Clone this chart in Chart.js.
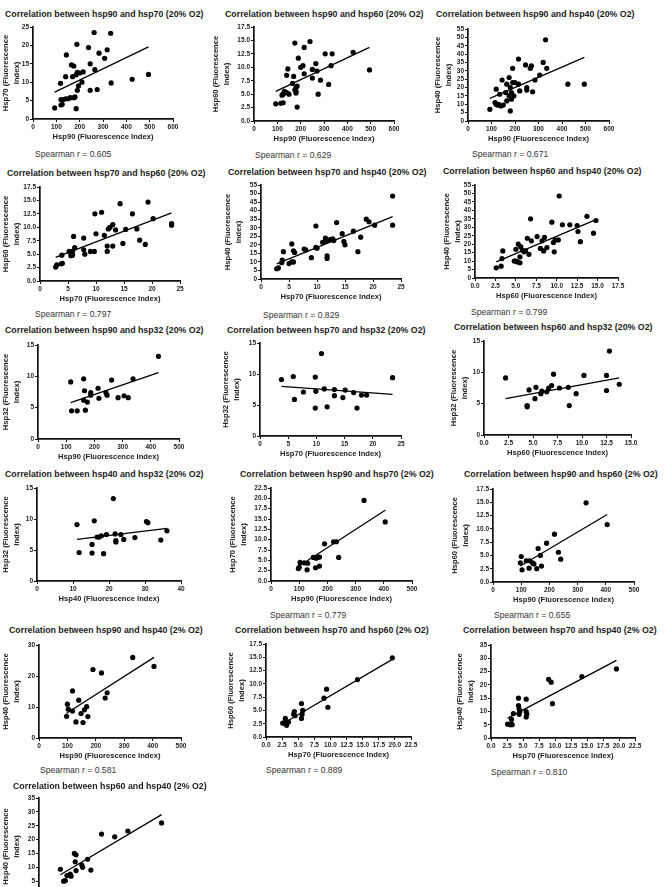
<!DOCTYPE html>
<html>
<head>
<meta charset="utf-8">
<script src="https://cdn.jsdelivr.net/npm/chart.js@4.4.1/dist/chart.umd.min.js"></script>
<style>
  html, body { margin: 0; padding: 0; background: #fff; width: 664px; height: 887px; overflow: hidden; position: relative; }
  canvas { position: absolute; }
  .ttl { position: absolute; font: bold 8.8px "Liberation Sans", Arial, sans-serif; color: #1c1c1c; white-space: nowrap; line-height: 10px; }
  .spr { position: absolute; font: 8.6px "Liberation Sans", Arial, sans-serif; color: #333; white-space: nowrap; line-height: 10px; }
</style>
</head>
<body>
<script>
// valores (x = primeira proteína, y = segunda)
const hsp90_hsp70_20_x = [93,120,125,130,120,140,150,160,175,180,118,140,143,165,175,170,185,190,200,215,210,185,190,195,188,238,262,333,318,283,307,245,265,245,275,335,425,495];
const hsp90_hsp70_20_y = [3.0,3.8,4.0,5.3,5.3,5.5,5.5,5.8,5.8,6.0,9.7,11.5,17.4,14.7,14.4,11.5,12.0,12.7,12.5,12.8,10.0,2.8,7.8,9.0,20.3,19.4,23.5,23.3,18.8,17.9,16.5,15.0,13.4,7.8,8.0,9.8,10.8,12.1];
const hsp90_hsp70_20_fit = [[93,495],[7.3,19.6]];

const hsp90_hsp60_20_x = [93,115,125,120,125,130,140,150,140,145,165,170,175,180,180,185,180,185,175,190,200,210,215,215,240,250,250,265,270,275,285,305,320,335,330,425,495];
const hsp90_hsp60_20_y = [3.2,3.3,3.4,4.8,5.0,5.5,5.3,5.0,8.5,9.7,7.0,8.3,5.8,5.5,6.2,6.5,5.2,2.6,14.5,11.7,10.0,10.3,13.7,8.8,14.8,9.6,8.0,10.7,9.3,5.0,7.6,12.5,6.8,12.5,10.3,12.8,9.5];
const hsp90_hsp60_20_fit = [[93,495],[5.5,13.7]];

const hsp90_hsp40_20_x = [93,115,120,120,125,130,135,140,145,150,160,165,165,175,175,180,180,185,185,190,190,195,200,215,215,220,245,250,250,265,270,275,285,305,320,330,335,425,495];
const hsp90_hsp40_20_y = [7,11,19,10,9.5,10,16,9,24.5,9.5,17,12,22,26,15,20,6,17,13,23,31.5,15,23,37,22,18,33.5,20,18.5,31.5,33,17.5,24.5,27.5,35,48.5,31.5,22,22];
const hsp90_hsp40_20_fit = [[93,495],[13.5,38]];

const hsp70_hsp60_20_x = [2.8,3.0,3.8,3.9,4.0,5.2,5.5,5.7,5.8,5.8,6.0,6.2,7.8,7.8,8.0,9.0,9.7,9.8,10.0,11.0,11.5,12.0,12.0,12.2,12.5,13.0,13.0,13.5,14.3,14.8,15.3,16.5,17.3,17.8,18.8,19.3,20.2,23.5,23.5];
const hsp70_hsp60_20_y = [2.6,3.0,3.2,4.8,3.3,5.5,4.7,5.0,4.8,5.5,8.3,6.2,8.0,5.8,5.0,5.5,5.5,12.5,8.8,12.8,8.5,5.5,6.5,9.7,10.0,10.5,6.5,9.5,14.4,7.0,9.6,12.5,9.7,7.6,6.8,14.7,11.6,10.4,10.7];
const hsp70_hsp60_20_fit = [[2.8,23.5],[4.4,12.7]];

const hsp70_hsp40_20_x = [2.8,3.1,3.7,3.8,4.0,5.0,5.5,5.5,5.8,5.8,6.0,7.7,8.0,9.0,9.8,9.8,10.0,11.0,11.5,11.5,11.8,11.8,12.3,12.8,13.0,13.5,14.5,14.8,15.0,16.5,17.3,17.8,18.8,19.3,20.3,23.5,23.5];
const hsp70_hsp40_20_y = [6,6.5,9.5,11,16,9,10,20.5,10,16.5,15.5,17.5,17,12.5,31,18.5,18,21.5,24,22,12,13.5,23,23.5,22.5,33,26.5,22,20,28,16,24.5,35,33.5,31.5,48.5,31.5];
const hsp70_hsp40_20_fit = [[2.8,23.5],[8.8,36.5]];

const hsp60_hsp40_20_x = [2.6,3.2,3.3,3.4,4.8,5.0,5.0,5.2,5.3,5.5,5.5,5.6,5.8,6.0,6.2,6.4,6.6,6.8,6.9,7.6,8.0,8.2,8.4,8.5,8.8,9.4,9.6,9.7,9.8,10.2,10.3,10.7,11.6,12.5,12.6,12.9,13.7,14.5,14.8];
const hsp60_hsp40_20_y = [6,7,11.5,16,10,10,17,9.5,20,12.5,9,18.5,16.5,15.5,16,23.5,14,35,22,24.5,17.5,22,16,24,18,33,21,15.5,22.5,22.5,48.5,31.5,31.5,31,27.5,21.5,36.5,26.5,34];
const hsp60_hsp40_20_fit = [[2.6,14.8],[9.5,34.5]];

const hsp90_hsp32_20_x = [116,119,139,162,165,162,168,175,187,187,213,216,241,245,261,284,305,320,337,427];
const hsp90_hsp32_20_y = [9.1,4.5,4.5,9.6,7.7,6.2,4.6,5.9,7.4,7.0,8.1,6.5,7.4,7.0,9.4,6.6,6.9,6.6,9.6,13.2];
const hsp90_hsp32_20_fit = [[116,427],[5.8,10.6]];

const hsp70_hsp32_20_x = [3.8,5.9,6.1,7.7,9.8,9.8,9.9,10.9,11.4,11.9,13.2,13.2,14.7,15.1,16.6,17.2,18.0,18.9,23.5];
const hsp70_hsp32_20_y = [9.1,9.6,5.9,7.1,9.5,4.5,7.2,13.3,7.6,4.7,7.5,6.5,6.2,7.4,7.0,4.5,6.6,6.6,9.4];
const hsp70_hsp32_20_fit = [[3.8,23.5],[8.0,6.7]];

const hsp60_hsp32_20_x = [2.2,4.4,4.4,4.6,5.2,5.3,5.8,5.9,6.4,6.6,6.9,7.1,7.7,8.6,8.7,9.4,10.2,12.5,12.5,12.8,13.8];
const hsp60_hsp32_20_y = [9.1,4.7,4.5,7.2,5.8,7.6,6.6,7.0,6.9,7.5,7.9,9.7,7.5,7.6,4.7,6.6,9.5,9.5,7.1,13.4,8.1];
const hsp60_hsp32_20_fit = [[2.2,13.8],[5.8,9.1]];

const hsp40_hsp32_20_x = [11.1,11.7,15.3,15.3,15.9,16.7,17.3,17.9,18.5,19.3,21.2,21.7,21.9,21.9,23.3,24.1,27.2,30.4,30.8,34.4,36.1];
const hsp40_hsp32_20_y = [9.1,4.6,5.9,4.5,9.7,7.1,7.1,7.3,4.4,7.5,13.3,7.6,6.3,6.5,7.5,6.7,7.0,9.6,9.4,6.6,8.1];
const hsp40_hsp32_20_fit = [[11.1,36.1],[6.7,8.5]];

const hsp90_hsp70_2_x = [97,100,103,118,128,130,150,158,160,168,172,172,190,222,232,240,330,405];
const hsp90_hsp70_2_y = [3.0,3.3,4.5,4.4,2.7,4.3,5.7,3.2,5.5,5.8,3.6,5.8,9.0,9.5,9.5,5.7,19.5,14.3];
const hsp90_hsp70_2_fit = [[97,405],[3.5,17.1]];

const hsp90_hsp60_2_x = [97,100,103,118,128,130,140,145,155,160,168,172,190,218,232,240,330,405];
const hsp90_hsp60_2_y = [3.6,4.8,2.3,4.0,2.6,4.0,3.6,3.4,2.5,6.3,5.0,3.0,7.3,9.0,5.6,4.3,14.9,10.8];
const hsp90_hsp60_2_fit = [[97,405],[3.0,12.7]];

const hsp90_hsp40_2_x = [97,100,103,118,118,130,140,148,155,160,168,172,190,220,233,240,330,405];
const hsp90_hsp40_2_y = [7.0,10.9,9.3,15.2,8.7,5.2,12.2,7.9,5.0,9.1,10.1,6.9,22.1,21.0,12.9,14.6,26.0,23.1];
const hsp90_hsp40_2_fit = [[97,405],[8.0,26.0]];

const hsp70_hsp60_2_x = [2.6,2.9,3.0,3.2,3.5,4.3,4.4,4.5,5.5,5.5,5.6,5.7,9.0,9.4,9.6,14.2,19.6];
const hsp70_hsp60_2_y = [2.6,2.6,3.5,2.2,2.8,4.3,4.8,4.0,6.3,3.5,4.3,5.0,7.3,9.0,5.6,10.8,14.9];
const hsp70_hsp60_2_fit = [[2.6,19.6],[2.5,14.6]];

const hsp70_hsp40_2_x = [2.6,3.0,3.2,3.3,3.5,4.3,4.3,4.4,4.5,4.4,5.5,5.5,5.5,5.6,9.0,9.4,9.6,14.2,19.6];
const hsp70_hsp40_2_y = [5.2,5.0,7.0,5.0,9.2,15.0,12.2,11.0,10.1,8.9,14.6,9.9,7.9,9.0,22.1,21.0,12.9,23.1,26.0];
const hsp70_hsp40_2_fit = [[2.6,19.6],[7.5,29.2]];

const hsp60_hsp40_2_x = [2.6,3.0,3.2,3.4,3.8,3.9,4.3,4.5,4.4,4.5,5.2,5.3,5.9,6.3,7.6,9.2,10.8,14.9];
const hsp60_hsp40_2_y = [9.3,5.0,5.2,7.0,7.5,6.8,15.0,14.5,12.0,8.8,10.8,10.0,12.9,9.0,22.0,21.0,23.1,26.0];
const hsp60_hsp40_2_fit = [[2.6,14.9],[7.3,29.0]];

// titulos, eixos e valores de Spearman
const titles = [
  "Correlation between hsp90 and hsp70 (20% O2)", "Correlation between hsp90 and hsp60 (20% O2)", "Correlation between hsp90 and hsp40 (20% O2)",
  "Correlation between hsp70 and hsp60 (20% O2)", "Correlation between hsp70 and hsp40 (20% O2)", "Correlation between hsp60 and hsp40 (20% O2)",
  "Correlation between hsp90 and hsp32 (20% O2)", "Correlation between hsp70 and hsp32 (20% O2)", "Correlation between hsp60 and hsp32 (20% O2)",
  "Correlation between hsp40 and hsp32 (20% O2)", "Correlation between hsp90 and hsp70 (2% O2)", "Correlation between hsp90 and hsp60 (2% O2)",
  "Correlation between hsp90 and hsp40 (2% O2)", "Correlation between hsp70 and hsp60 (2% O2)", "Correlation between hsp70 and hsp40 (2% O2)",
  "Correlation between hsp60 and hsp40 (2% O2)"
];
const xNames = ["Hsp90","Hsp90","Hsp90","Hsp70","Hsp70","Hsp60","Hsp90","Hsp70","Hsp60","Hsp40","Hsp90","Hsp90","Hsp90","Hsp70","Hsp70","Hsp60"];
const yNames = ["Hsp70","Hsp60","Hsp40","Hsp60","Hsp40","Hsp40","Hsp32","Hsp32","Hsp32","Hsp32","Hsp70","Hsp60","Hsp40","Hsp60","Hsp40","Hsp40"];
const spearman = ["0.605","0.629","0.671","0.797","0.829","0.799",null,null,null,null,"0.779","0.655","0.581","0.889","0.810",null];
// [max, passo] de cada eixo
const xRanges = [[600,100],[600,100],[600,100],[25,5],[25,5],[17.5,2.5],[500,100],[25,5],[15,2.5],[40,10],[500,100],[500,100],[500,100],[22.5,2.5],[22.5,2.5],[17.5,2.5]];
const yRanges = [[25,5],[17.5,2.5],[55,5],[17.5,2.5],[55,5],[55,5],[15,5],[15,5],[15,5],[15,5],[22.5,2.5],[17.5,2.5],[30,10],[17.5,2.5],[35,5],[35,5]];

const series = [
  [hsp90_hsp70_20_x, hsp90_hsp70_20_y, hsp90_hsp70_20_fit], [hsp90_hsp60_20_x, hsp90_hsp60_20_y, hsp90_hsp60_20_fit],
  [hsp90_hsp40_20_x, hsp90_hsp40_20_y, hsp90_hsp40_20_fit], [hsp70_hsp60_20_x, hsp70_hsp60_20_y, hsp70_hsp60_20_fit],
  [hsp70_hsp40_20_x, hsp70_hsp40_20_y, hsp70_hsp40_20_fit], [hsp60_hsp40_20_x, hsp60_hsp40_20_y, hsp60_hsp40_20_fit],
  [hsp90_hsp32_20_x, hsp90_hsp32_20_y, hsp90_hsp32_20_fit], [hsp70_hsp32_20_x, hsp70_hsp32_20_y, hsp70_hsp32_20_fit],
  [hsp60_hsp32_20_x, hsp60_hsp32_20_y, hsp60_hsp32_20_fit], [hsp40_hsp32_20_x, hsp40_hsp32_20_y, hsp40_hsp32_20_fit],
  [hsp90_hsp70_2_x, hsp90_hsp70_2_y, hsp90_hsp70_2_fit], [hsp90_hsp60_2_x, hsp90_hsp60_2_y, hsp90_hsp60_2_fit],
  [hsp90_hsp40_2_x, hsp90_hsp40_2_y, hsp90_hsp40_2_fit], [hsp70_hsp60_2_x, hsp70_hsp60_2_y, hsp70_hsp60_2_fit],
  [hsp70_hsp40_2_x, hsp70_hsp40_2_y, hsp70_hsp40_2_fit], [hsp60_hsp40_2_x, hsp60_hsp40_2_y, hsp60_hsp40_2_fit]
];

// posição de cada painel: area do grafico (L,R,T,B), largura do eixo y, titulo e texto de Spearman
const boxes = [
  {L:33,R:173,T:27,B:119,W:33,tx:5,ty:14,sx:35,sy:154},
  {L:254,R:394,T:27,B:121,W:44,tx:225,ty:14,sx:255,sy:155},
  {L:468,R:609,T:29,B:121,W:36,tx:436,ty:14,sx:472,sy:154},
  {L:40,R:180,T:187,B:281,W:40,tx:7,ty:173,sx:35,sy:314},
  {L:261,R:401,T:185,B:279,W:39,tx:228,ty:172,sx:263,sy:315},
  {L:475,R:618,T:185,B:278,W:34,tx:443,ty:171,sx:471,sy:312},
  {L:38,R:179,T:345,B:439,W:38,tx:5,ty:330},
  {L:260,R:401,T:343,B:436,W:40,tx:227,ty:330},
  {L:484,R:631,T:341,B:435,W:36,tx:454,ty:327},
  {L:37,R:181,T:488,B:581,W:37,tx:5,ty:474},
  {L:271,R:412,T:488,B:581,W:44,tx:240,ty:474,sx:270,sy:615},
  {L:493,R:634,T:489,B:582,W:44,tx:464,ty:474,sx:494,sy:615},
  {L:39,R:181,T:645,B:738,W:39,tx:9,ty:630,sx:40,sy:770},
  {L:266,R:411,T:644,B:737,W:41,tx:235,ty:630,sx:266,sy:770},
  {L:491,R:635,T:645,B:738,W:37,tx:463,ty:630,sx:491,sy:772},
  {L:39,R:183,T:798,B:895,W:39,tx:13,ty:786}
];

const tickFont = { family: "Liberation Sans", size: 6.5, weight: "bold" };
const axisFont = { family: "Liberation Sans", size: 7.6, weight: "bold", lineHeight: 1.5 };
const ink = "#222";

function fmt(step) {
  return v => (step % 1 !== 0 ? Number(v).toFixed(1) : String(v));
}

function axis(range, title, extra) {
  const [max, step] = range;
  return Object.assign({
    type: "linear",
    min: 0,
    max: max,
    ticks: { stepSize: step, autoSkip: false, maxRotation: 0, padding: 1, font: tickFont, color: ink, callback: fmt(step) },
    grid: { display: true, drawOnChartArea: false, drawTicks: true, tickLength: 3, color: "#111", lineWidth: 1 },
    border: { display: true, color: "#111", width: 1.7 },
    title: { display: true, text: title, font: axisFont, color: ink, padding: { top: 0, bottom: 2 } }
  }, extra);
}

boxes.forEach((b, i) => {
  const PAD_T = 8, PAD_R = 12, XH = 26;
  const cv = document.createElement("canvas");
  const w = b.R - b.L + b.W + PAD_R;
  const h = b.B - b.T + PAD_T + XH;
  cv.width = w; cv.height = h;
  cv.style.left = (b.L - b.W) + "px";
  cv.style.top = (b.T - PAD_T) + "px";
  cv.style.width = w + "px"; cv.style.height = h + "px";
  document.body.appendChild(cv);

  const [xs, ys, fit] = series[i];
  new Chart(cv, {
    type: "scatter",
    data: {
      datasets: [
        { data: xs.map((x, k) => ({ x: x, y: ys[k] })), pointRadius: 2.6, pointBackgroundColor: "#000", pointBorderColor: "#000", pointBorderWidth: 0 },
        { type: "line", data: fit[0].map((x, k) => ({ x: x, y: fit[1][k] })), borderColor: "#000", borderWidth: 1.3, pointRadius: 0, fill: false }
      ]
    },
    options: {
      responsive: false,
      animation: false,
      events: [],
      layout: { padding: { top: PAD_T, right: PAD_R, left: 0, bottom: 0 } },
      plugins: { legend: { display: false }, tooltip: { enabled: false } },
      scales: {
        x: axis(xRanges[i], xNames[i] + " (Fluorescence Index)", { afterFit: s => { s.height = XH; } }),
        y: axis(yRanges[i], [yNames[i] + " (Fluorescence", "Index)"], { afterFit: s => { s.width = b.W; } })
      }
    }
  });

  const t = document.createElement("div");
  t.className = "ttl";
  t.textContent = titles[i];
  t.style.left = b.tx + "px";
  t.style.top = (b.ty - 5) + "px";
  document.body.appendChild(t);

  if (spearman[i]) {
    const s = document.createElement("div");
    s.className = "spr";
    s.textContent = "Spearman r = " + spearman[i];
    s.style.left = b.sx + "px";
    s.style.top = (b.sy - 5) + "px";
    document.body.appendChild(s);
  }
});
</script>
</body>
</html>
